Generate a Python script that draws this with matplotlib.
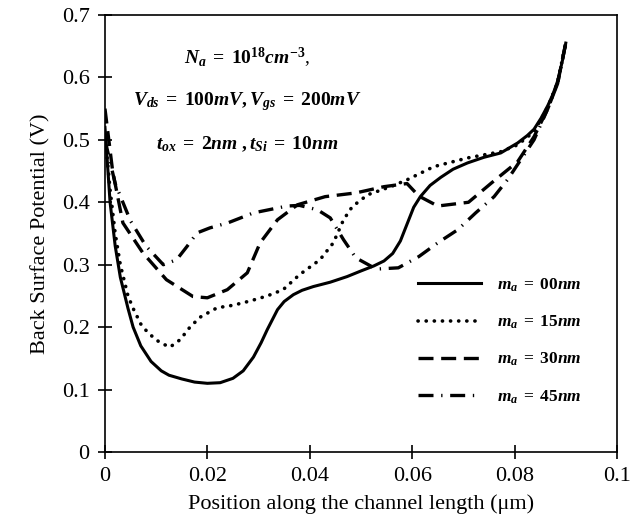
#!/usr/bin/env python3

import matplotlib
matplotlib.use('Agg')
import matplotlib.pyplot as plt

# back surface potential vs position, one curve per m_a value
x_00 = [0, 0.001, 0.002, 0.003, 0.0045, 0.0055, 0.007, 0.009, 0.011, 0.0125,
        0.015, 0.0175, 0.02, 0.0225, 0.025, 0.027, 0.029, 0.0305, 0.0317,
        0.0337, 0.035, 0.0368, 0.0385, 0.0407, 0.044, 0.0473, 0.05, 0.0525,
        0.0545, 0.0562, 0.0577, 0.059, 0.0603, 0.0616, 0.0635, 0.0656, 0.068,
        0.0708, 0.074, 0.0773, 0.0806, 0.0825, 0.0838, 0.0852, 0.0865,
        0.0875, 0.0884, 0.0893, 0.090]
y_00 = [0.52, 0.40, 0.33, 0.28, 0.23, 0.20, 0.17, 0.145, 0.13, 0.123,
        0.117, 0.112, 0.110, 0.111, 0.118, 0.13, 0.152, 0.175, 0.196,
        0.228, 0.241, 0.252, 0.259, 0.265, 0.272, 0.281, 0.29, 0.298,
        0.306, 0.318, 0.338, 0.365, 0.392, 0.409, 0.427, 0.44, 0.453,
        0.463, 0.472, 0.479, 0.495, 0.507, 0.517, 0.535, 0.555,
        0.573, 0.594, 0.625, 0.655]

x_15 = [0, 0.001, 0.002, 0.003, 0.0045, 0.0055, 0.007, 0.008, 0.0095,
        0.0108, 0.0127, 0.0147, 0.0166, 0.0186, 0.0219, 0.025, 0.0284,
        0.0317, 0.0348, 0.038, 0.042, 0.0446, 0.0466, 0.0483, 0.0513,
        0.0558, 0.059, 0.0642, 0.0708, 0.0773, 0.0806, 0.0838, 0.0865,
        0.0884, 0.090]
y_15 = [0.51, 0.42, 0.35, 0.30, 0.25, 0.23, 0.205, 0.195, 0.183,
        0.175, 0.168, 0.18, 0.20, 0.216, 0.231, 0.235, 0.242,
        0.25, 0.26, 0.284, 0.308, 0.335, 0.372, 0.393, 0.412,
        0.425, 0.436, 0.457, 0.471, 0.481, 0.492, 0.513, 0.553,
        0.592, 0.655]

x_30 = [0, 0.0015, 0.0035, 0.0074, 0.012, 0.0172, 0.02, 0.0239, 0.0278,
        0.0303, 0.0337, 0.0376, 0.043, 0.049, 0.0545, 0.059, 0.0613, 0.065,
        0.071, 0.0755, 0.0806, 0.0838, 0.0865, 0.0884, 0.090]
y_30 = [0.55, 0.45, 0.367, 0.319, 0.276, 0.249, 0.247, 0.26, 0.287,
        0.335, 0.372, 0.396, 0.409, 0.415, 0.425, 0.43, 0.41, 0.394,
        0.40, 0.431, 0.465, 0.505, 0.55, 0.59, 0.655]

x_45 = [0, 0.002, 0.005, 0.008, 0.0114, 0.014, 0.016, 0.018, 0.0205, 0.024,
        0.029, 0.0356, 0.038, 0.0415, 0.044, 0.0466, 0.049, 0.053, 0.0573,
        0.0613, 0.065, 0.0689, 0.0724, 0.076, 0.0787, 0.0808, 0.0838,
        0.0865, 0.0884, 0.090]
y_45 = [0.50, 0.43, 0.37, 0.33, 0.30, 0.308, 0.329, 0.351, 0.359, 0.367,
        0.383, 0.394, 0.395, 0.388, 0.375, 0.34, 0.311, 0.293, 0.295,
        0.313, 0.335, 0.356, 0.383, 0.409, 0.437, 0.463, 0.50,
        0.55, 0.59, 0.655]

labels = [r'$m_a\;=\;00nm$', r'$m_a\;=\;15nm$', r'$m_a\;=\;30nm$',
          r'$m_a\;=\;45nm$']
x_ticks = [0, 0.02, 0.04, 0.06, 0.08, 0.1]
x_tick_labels = ['0', '0.02', '0.04', '0.06', '0.08', '0.1']
y_ticks = [0, 0.1, 0.2, 0.3, 0.4, 0.5, 0.6, 0.7]
y_tick_labels = ['0', '0.1', '0.2', '0.3', '0.4', '0.5', '0.6', '0.7']
notes = [r'$N_a\;=\;10^{18}cm^{-3}$,',
         r'$V_{ds}\;=\;100mV, V_{gs}\;=\;200mV$',
         r'$t_{ox}\;=\;2nm\;, t_{Si}\;=\;10nm$']


def main():
    plt.rcParams['font.family'] = ['Liberation Serif', 'DejaVu Serif']
    plt.rcParams['mathtext.fontset'] = 'custom'
    plt.rcParams['mathtext.rm'] = 'Liberation Serif:bold'
    plt.rcParams['mathtext.it'] = 'Liberation Serif:italic:bold'
    plt.rcParams['mathtext.bf'] = 'Liberation Serif:bold'

    fig = plt.figure(figsize=(6.4, 5.26), dpi=100)
    ax = fig.add_axes([0.164, 0.1407, 0.800, 0.8308])

    styles = [
        dict(linestyle='-', linewidth=2.2),
        dict(linestyle=(0, (0.05, 2.2)), linewidth=2.6,
             dash_capstyle='round'),
        dict(linestyle=(0, (4.5, 2.3)), linewidth=2.4),
        dict(linestyle=(0, (4.5, 2.3, 0.4, 2.3)), linewidth=2.4),
    ]
    series = [(x_00, y_00), (x_15, y_15), (x_30, y_30), (x_45, y_45)]
    for (xs, ys), st, lab in zip(series, styles, labels):
        ax.plot(xs, ys, color='black', label=lab, **st)

    ax.set_xlim(0, 0.1)
    ax.set_ylim(0, 0.7)
    ax.set_xticks(x_ticks)
    ax.set_xticklabels(x_tick_labels)
    ax.set_yticks(y_ticks)
    ax.set_yticklabels(y_tick_labels)
    ax.tick_params(direction='inout', length=10, width=1.2,
                   labelsize=16, pad=6)
    for sp in ax.spines.values():
        sp.set_linewidth(1.2)

    ax.set_xlabel('Position along the channel length (\u03bcm)', fontsize=16,
                  labelpad=6)
    ax.set_ylabel('Back Surface Potential (V)', fontsize=16, labelpad=8)

    for i, txt in enumerate(notes):
        ax.text(0.277, 0.902 - i * 0.099, txt, transform=ax.transAxes,
                ha='center', va='center', fontsize=14)

    ax.legend(loc='center', bbox_to_anchor=(0.771, 0.254), frameon=False,
              fontsize=12.5, handlelength=3.6, handletextpad=0.9,
              labelspacing=1.15)

    fig.savefig('out.png', dpi=100)


if __name__ == '__main__':
    main()
